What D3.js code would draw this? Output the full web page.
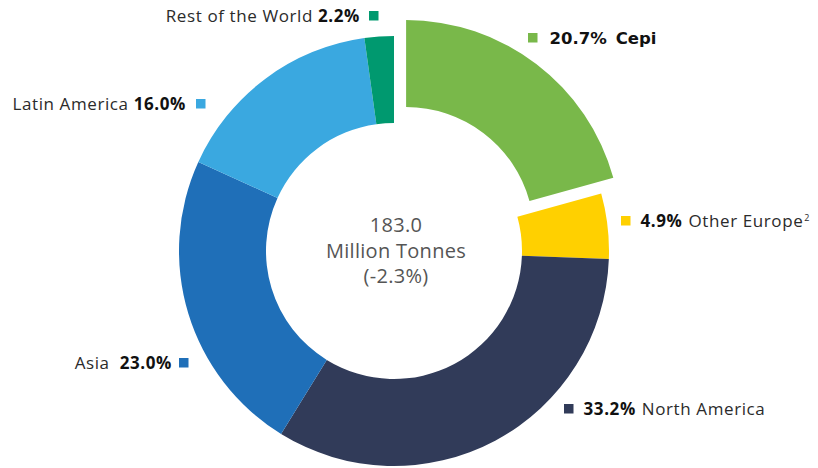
<!DOCTYPE html>
<html>
<head>
<meta charset="utf-8">
<script src="https://cdn.jsdelivr.net/npm/d3@7"></script>
<style>
  body { margin: 0; background: #fff; }
  svg { display: block; }
</style>
</head>
<body>
<script>
// slices, clockwise from 12 o'clock
const regions = ['Cepi', 'Other Europe', 'North America', 'Asia', 'Latin America', 'Rest of the World'];
const shares = [20.7, 4.9, 33.2, 23.0, 16.0, 2.2];
const colors = ['#79b84a', '#ffd000', '#313b59', '#1f6fb8', '#3aa8e0', '#00996f'];

const totalLines = ['183.0', 'Million Tonnes', '(-2.3%)'];

// hand placed labels, like in the original
const labelLayout = {
    'Cepi':              { side: 'right', x: 528, y: 44, gap: 12 },
    'Other Europe':      { side: 'right', x: 621, y: 227, gap: 10, sup: '2' },
    'North America':     { side: 'right', x: 564, y: 415, gap: 10 },
    'Asia':              { side: 'left',  x: 179, y: 369, gap: 7 },
    'Latin America':     { side: 'left',  x: 196, y: 110, gap: 10 },
    'Rest of the World': { side: 'left',  x: 369, y: 22, gap: 9 }
};

const WIDTH = 818, HEIGHT = 468;
const center = { x: 394, y: 251 };
const outerRadius = 215, innerRadius = 128;
const explode = 20;

const svg = d3.select('body').append('svg')
    .attr('width', WIDTH)
    .attr('height', HEIGHT);

const data = regions.map((name, i) => ({ name: name, value: shares[i], color: colors[i] }));

const pie = d3.pie()
    .value(d => d.value)
    .sort(null);

const arc = d3.arc()
    .innerRadius(innerRadius)
    .outerRadius(outerRadius);

const donut = svg.append('g')
    .attr('transform', `translate(${center.x},${center.y})`);

donut.selectAll('path')
    .data(pie(data))
    .enter()
    .append('path')
    .attr('d', arc)
    .attr('fill', d => d.data.color)
    .attr('transform', d => {
        if (d.data.name !== 'Cepi') return null;
        let mid = (d.startAngle + d.endAngle) / 2;
        return `translate(${explode * Math.sin(mid)},${-explode * Math.cos(mid)})`;
    });

// total in the hole
donut.append('text')
    .attr('text-anchor', 'middle')
    .style('font-family', '"Open Sans", sans-serif')
    .style('font-size', '20px')
    .style('letter-spacing', '0.3px')
    .style('fill', '#555')
    .selectAll('tspan')
    .data(totalLines)
    .enter()
    .append('tspan')
    .attr('x', 2)
    .attr('y', (d, i) => -19 + i * 25.5)
    .text(d => d);

// labels
const labels = svg.append('g')
    .style('font-family', '"Open Sans", sans-serif')
    .style('font-size', '17px')
    .style('letter-spacing', '0.6px');

data.forEach(d => {
    let lay = labelLayout[d.name];
    let pct = d3.format('.1f')(d.value) + '%';

    labels.append('rect')
        .attr('x', lay.x)
        .attr('y', lay.y - 11)
        .attr('width', 9.5)
        .attr('height', 9.5)
        .attr('fill', d.color);

    let txt = labels.append('text')
        .attr('y', lay.y)
        .style('fill', '#2b2b2b');

    if (lay.side === 'left') {
        txt.attr('x', lay.x - lay.gap).attr('text-anchor', 'end');
        txt.append('tspan').text(d.name);
        txt.append('tspan')
            .attr('dx', d.name === 'Asia' ? 10 : 5)
            .style('font-weight', 700)
            .style('fill', '#111')
            .text(pct);
    } else {
        txt.attr('x', lay.x + 9.5 + lay.gap).attr('text-anchor', 'start');
        if (d.name === 'Cepi') {
            txt.style('font-family', '"DejaVu Sans", sans-serif')
                .style('font-size', '16.5px')
                .style('letter-spacing', '0px');
        }
        txt.append('tspan')
            .style('font-weight', 700)
            .style('fill', '#111')
            .text(pct);
        txt.append('tspan')
            .attr('dx', d.name === 'Cepi' ? 9 : 6)
            .style('font-weight', d.name === 'Cepi' ? 700 : 400)
            .style('fill', d.name === 'Cepi' ? '#111' : '#2b2b2b')
            .text(d.name);
        if (lay.sup) {
            txt.append('tspan')
                .attr('dx', 1)
                .attr('dy', -6)
                .style('font-size', '9px')
                .text(lay.sup);
        }
    }
});
</script>
</body>
</html>
